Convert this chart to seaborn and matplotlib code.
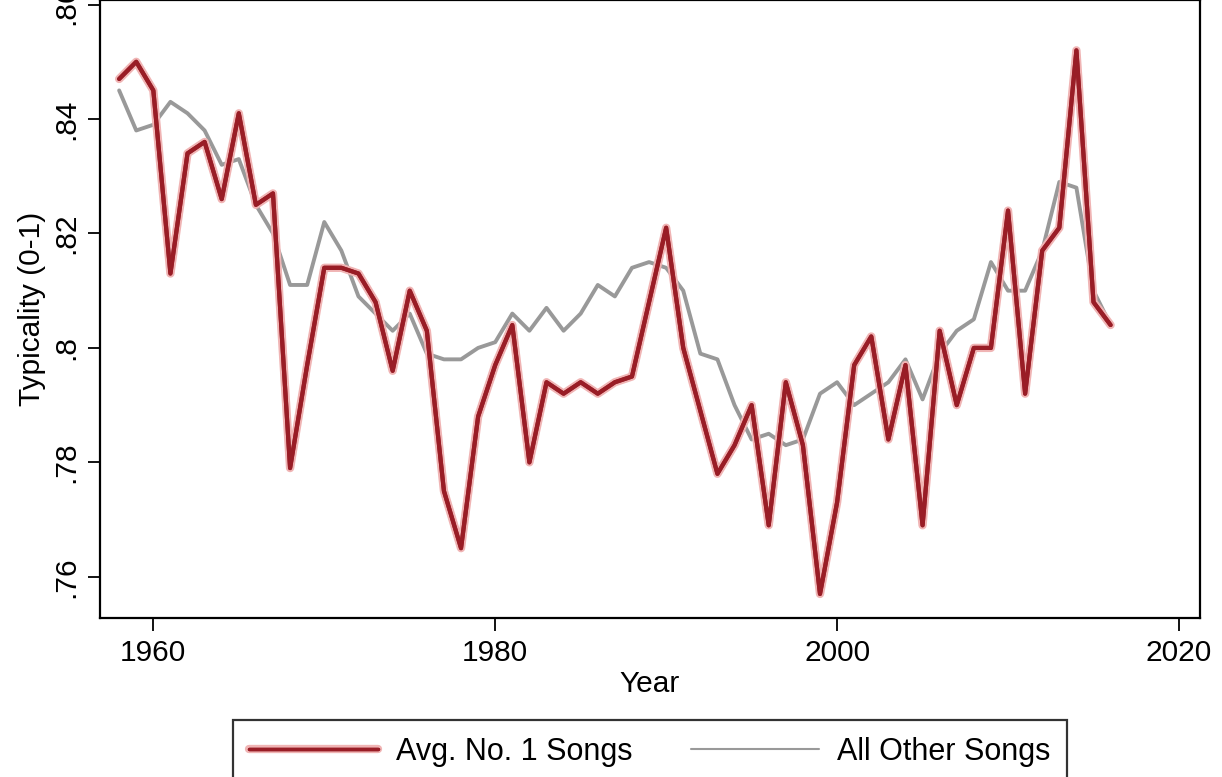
import pandas as pd
import matplotlib
matplotlib.use("Agg")
import matplotlib.pyplot as plt
import matplotlib.patheffects as pe
import seaborn as sns

# ------------------------------------------------------------------
# Data
# ------------------------------------------------------------------
years = list(range(1958, 2017))

no1_songs = [
    .847, .850, .845, .813, .834, .836, .826, .841, .825, .827,
    .779, .797, .814, .814, .813, .808, .796, .810, .803, .775,
    .765, .788, .797, .804, .780, .794, .792, .794, .792, .794,
    .795, .808, .821, .800, .789, .778, .783, .790, .769, .794,
    .783, .757, .773, .797, .802, .784, .797, .769, .803, .790,
    .800, .800, .824, .792, .817, .821, .852, .808, .804,
]

other_songs = [
    .845, .838, .839, .843, .841, .838, .832, .833, .825, .820,
    .811, .811, .822, .817, .809, .806, .803, .806, .799, .798,
    .798, .800, .801, .806, .803, .807, .803, .806, .811, .809,
    .814, .815, .814, .810, .799, .798, .790, .784, .785, .783,
    .784, .792, .794, .790, .792, .794, .798, .791, .799, .803,
    .805, .815, .810, .810, .817, .829, .828, .810, .804,
]

x_ticks = [1960, 1980, 2000, 2020]
y_ticks = [0.76, 0.78, 0.80, 0.82, 0.84, 0.86]
y_tick_labels = [".76", ".78", ".8", ".82", ".84", ".86"]

series_names = ["Avg. No. 1 Songs", "All Other Songs"]

# ------------------------------------------------------------------
# Style
# ------------------------------------------------------------------
sns.set_theme(style="white")
plt.rcParams["font.family"] = ["Liberation Sans", "DejaVu Sans"]
plt.rcParams["text.color"] = "black"
plt.rcParams["axes.labelcolor"] = "black"
plt.rcParams["xtick.color"] = "black"
plt.rcParams["ytick.color"] = "black"

RED = "#991d26"
GREY = "#999999"
FS = 21.5

df = pd.DataFrame({
    "Year": years,
    series_names[0]: no1_songs,
    series_names[1]: other_songs,
})

fig = plt.figure(figsize=(12.22, 7.77), dpi=100)
ax = fig.add_axes([100 / 1222, 1 - 618 / 777, 1100 / 1222, 618 / 777])

# grey first so the red line sits on top
sns.lineplot(data=df, x="Year", y=series_names[1], ax=ax, color=GREY,
             linewidth=2.8, label=series_names[1])
sns.lineplot(data=df, x="Year", y=series_names[0], ax=ax, color=RED,
             linewidth=3.0, label=series_names[0],
             path_effects=[pe.withStroke(linewidth=6, foreground="#f0b4b4"), pe.Normal()])

ax.set_xlim(1956.88, 2021.23)
ax.set_ylim(0.7528, 0.8608)
ax.set_xticks(x_ticks)
ax.set_xticklabels([str(x) for x in x_ticks])
ax.set_yticks(y_ticks)
ax.set_yticklabels(y_tick_labels, rotation=90, va="center")

ax.tick_params(axis="both", direction="out", length=9, width=1.3,
               colors="black", labelsize=FS, bottom=True, left=True)
ax.tick_params(axis="x", pad=6)
ax.tick_params(axis="y", pad=5)

for s in ax.spines.values():
    s.set_color("black")
    s.set_linewidth(1.6)

ax.set_xlabel("Year", fontsize=FS, color="black")
ax.set_ylabel("Typicality (0-1)", fontsize=FS, color="black")
ax.xaxis.set_label_coords(0.5, -0.084)
ax.yaxis.set_label_coords(-0.049, 0.5)

# legend below the plot, red entry first
handles, labels = ax.get_legend_handles_labels()
ax.get_legend().remove()
order = [labels.index(n) for n in series_names]
leg = fig.legend([handles[i] for i in order], [labels[i] for i in order],
                 loc="upper center", bbox_to_anchor=(650 / 1222, 1 - 720 / 777),
                 ncol=2, frameon=True, fancybox=False, edgecolor="black",
                 fontsize=22, handlelength=4.2, handletextpad=0.6,
                 columnspacing=1.9, borderpad=0.55, borderaxespad=0)
leg.get_frame().set_linewidth(1.6)
leg.get_lines()[0].set_linewidth(2.5)
leg.get_lines()[1].set_linewidth(1.5)
for t in leg.get_texts():
    t.set_color("black")

fig.savefig("out.png", dpi=100)
